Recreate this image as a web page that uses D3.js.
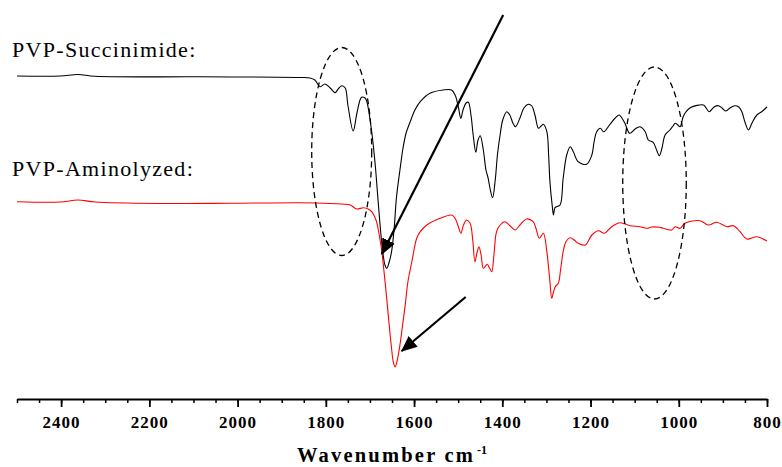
<!DOCTYPE html>
<html>
<head>
<meta charset="utf-8">
<script src="https://cdn.jsdelivr.net/npm/d3@7"></script>
</head>
<body style="margin:0">
<script>
// wavenumber (cm-1) vs transmittance (arbitrary units, offset per trace)
const succinimide = [
  [2500, 324], [2402, 324], [2362, 325.5], [2323, 323.7], [2085, 323.2], [1858, 322.5],
  [1836, 322], [1825, 320], [1813, 313.3], [1802, 316], [1790, 312], [1779, 307.3],
  [1772, 311], [1764, 314.3], [1756, 312], [1750, 295], [1738, 269], [1729, 288],
  [1719, 302.7], [1711, 302], [1707, 298.3], [1696, 268.3], [1688, 235], [1682, 202],
  [1675, 165], [1670, 145], [1666, 135], [1662, 131.7], [1657, 137], [1651, 148.3],
  [1645, 172], [1640, 202], [1632, 230], [1625, 252], [1618, 267], [1609, 278],
  [1598, 290], [1586, 298.3], [1564, 306.7], [1534, 310], [1515, 310], [1507, 305],
  [1500, 294], [1494, 281.7], [1489, 290], [1482, 297], [1477, 297.7], [1471, 285],
  [1466, 265], [1460, 247.7], [1455, 260], [1450, 264.3], [1443, 250], [1437, 230],
  [1432, 221.7], [1428, 212], [1422, 202.3], [1416, 220], [1411, 245], [1405, 265],
  [1399, 280], [1390, 288.3], [1383, 285], [1376, 277], [1370, 273.3], [1360, 282],
  [1351, 292], [1341, 295.7], [1333, 294], [1326, 285], [1318, 271.7], [1312, 274],
  [1307, 275.7], [1299, 268.3], [1295, 245], [1292, 218.3], [1287, 195], [1284, 185],
  [1281, 192], [1277, 193.3], [1269, 195], [1262, 221.7], [1254, 245], [1246, 253.3],
  [1239, 248.3], [1228, 238.3], [1209, 235.7], [1197, 245], [1192, 258], [1186, 268.3],
  [1178, 271.7], [1170, 268.3], [1156, 275.7], [1144, 282], [1135, 285], [1129, 282],
  [1122, 276.7], [1111, 266.7], [1099, 271], [1088, 273.3], [1076, 268.3], [1069, 260],
  [1058, 257.7], [1052, 252], [1044, 244.3], [1038, 252], [1031, 265], [1020, 270],
  [1013, 274], [1008, 276.7], [1002, 275], [997, 273.3], [990, 283.3], [984, 288],
  [974, 292.3], [944, 295], [938, 292], [931, 288.3], [920, 293], [910, 294.3],
  [902, 292], [893, 289], [884, 292], [873, 294.3], [864, 293], [857, 288.3],
  [850, 278], [842, 270], [834, 277], [823, 285], [812, 288.3], [800, 293]
];

const aminolyzed = [
  [2500, 198.3], [2402, 198], [2362, 200], [2323, 198], [2176, 196.5], [2017, 196.7],
  [1858, 197.3], [1790, 196.5], [1745, 195], [1730, 191], [1715, 192.3], [1704, 191],
  [1696, 188.3], [1685, 178.3], [1679, 165], [1673, 148.3], [1668, 128], [1662, 101.7],
  [1657, 78], [1651, 51.7], [1647, 38], [1643, 33], [1639, 38], [1632, 55],
  [1626, 75], [1620, 95], [1614, 118], [1605, 138.3], [1594, 161.7], [1586, 168.3],
  [1571, 175], [1541, 181.7], [1515, 185], [1507, 181.7], [1500, 174], [1494, 166.7],
  [1488, 175], [1481, 180], [1473, 176.7], [1467, 160], [1462, 138.3], [1457, 148],
  [1453, 153.3], [1448, 145], [1443, 131.7], [1438, 134], [1434, 135.7], [1429, 132],
  [1424, 128.3], [1419, 145], [1413, 168.3], [1405, 175], [1394, 178.3], [1382, 174],
  [1371, 170], [1360, 175], [1345, 181], [1330, 178.3], [1324, 172], [1316, 161.7],
  [1307, 166.7], [1299, 148.3], [1295, 132], [1292, 118.3], [1288, 101.7], [1284, 108],
  [1280, 113.3], [1273, 116.7], [1268, 130], [1262, 148.3], [1256, 158], [1246, 162.3],
  [1237, 160], [1228, 156.7], [1212, 155], [1197, 165], [1182, 169.3], [1169, 166.7],
  [1152, 173.3], [1133, 177.3], [1110, 174.3], [1088, 173.3], [1073, 171.7], [1061, 173],
  [1044, 172.7], [1035, 171.7], [1016, 170], [1008, 173.3], [997, 171.7], [986, 176.7],
  [952, 179.3], [933, 175], [914, 177.7], [891, 173.3], [876, 174.3], [861, 168.3],
  [846, 161], [823, 163.3], [800, 159]
];

const majorTicks = [2400, 2200, 2000, 1800, 1600, 1400, 1200, 1000, 800];
const minorTicks = d3.range(2500, 799, -50);

const seriesLabels = ["PVP-Succinimide:", "PVP-Aminolyzed:"];
const seriesColors = ["#000000", "#ff0000"];

// annotation marks: [wavenumber, value]
const ellipses = [
  { c: [1764, 248.5], rx: 68, ry: 104 },
  { c: [1055, 217], rx: 72, ry: 116 }
];
const arrows = [
  { from: [1398, 385], to: [1673, 146] },
  { from: [1483, 103], to: [1628, 49] }
];

const FONT = '"Liberation Serif"';
const width = 782, height = 467;

const svg = d3.select("body").append("svg")
  .attr("width", width)
  .attr("height", height);

const x = d3.scaleLinear().domain([2500, 800]).range([17, 767]);
const y = d3.scaleLinear().domain([0, 400]).range([400, 0]);

const line = d3.line()
  .x(d => x(d[0]))
  .y(d => y(d[1]))
  .curve(d3.curveCatmullRom.alpha(0.5));

// series labels
svg.selectAll("text.series-label")
  .data(seriesLabels)
  .enter().append("text")
  .attr("class", "series-label")
  .attr("x", 12)
  .attr("y", (d, i) => i === 0 ? 57 : 176)
  .attr("font-family", "Liberation Serif")
  .style("font-family", FONT, "important")
  .attr("font-size", 22)
  .style("letter-spacing", "1.3px")
  .text(d => d);

// spectra
svg.append("g")
  .selectAll("path")
  .data([succinimide, aminolyzed])
  .enter().append("path")
  .attr("d", line)
  .attr("fill", "none")
  .attr("stroke", (d, i) => seriesColors[i])
  .attr("stroke-width", 1.1);

// dashed ellipses
svg.append("g")
  .selectAll("ellipse")
  .data(ellipses)
  .enter().append("ellipse")
  .attr("cx", d => x(d.c[0]))
  .attr("cy", d => y(d.c[1]))
  .attr("rx", d => Math.abs(x(d.c[0] + d.rx) - x(d.c[0])))
  .attr("ry", d => Math.abs(y(d.c[1] + d.ry) - y(d.c[1])))
  .attr("fill", "none")
  .attr("stroke", "#000")
  .attr("stroke-width", 1.3)
  .attr("stroke-dasharray", "6,4");

// arrows
svg.append("defs").append("marker")
  .attr("id", "head")
  .attr("markerUnits", "userSpaceOnUse")
  .attr("viewBox", "0 0 16 14")
  .attr("refX", 15)
  .attr("refY", 7)
  .attr("markerWidth", 16)
  .attr("markerHeight", 14)
  .attr("orient", "auto")
  .append("path")
  .attr("d", "M0,0 L16,7 L0,14 Z")
  .attr("fill", "#000");

svg.append("g")
  .selectAll("line")
  .data(arrows)
  .enter().append("line")
  .attr("x1", d => x(d.from[0]))
  .attr("y1", d => y(d.from[1]))
  .attr("x2", d => x(d.to[0]))
  .attr("y2", d => y(d.to[1]))
  .attr("stroke", "#000")
  .attr("stroke-width", 2.2)
  .attr("marker-end", "url(#head)");

// x axis
const axisY = 399;
const minorAxis = svg.append("g")
  .attr("transform", `translate(0,${axisY})`)
  .call(d3.axisBottom(x).tickValues(minorTicks).tickSize(4).tickSizeOuter(0).tickFormat(""));
minorAxis.select(".domain").remove();
minorAxis.selectAll(".tick line").attr("stroke-width", 1.5);

const majorAxis = svg.append("g")
  .attr("transform", `translate(0,${axisY})`)
  .call(d3.axisBottom(x).tickValues(majorTicks).tickSize(8).tickSizeOuter(0)
    .tickFormat(d3.format("d")));
majorAxis.attr("font-family", "Liberation Serif").attr("font-size", null);
majorAxis.select(".domain").attr("stroke-width", 2);
majorAxis.selectAll(".tick line").attr("stroke-width", 1.8);
majorAxis.selectAll(".tick text")
  .attr("y", 29)
  .attr("dy", 0)
  .attr("font-family", "Liberation Serif")
  .style("font-family", FONT, "important")
  .attr("font-weight", "bold")
  .attr("font-size", 17)
  .style("letter-spacing", "1px")
  .attr("fill", "#000");

// axis title
svg.append("text")
  .attr("x", 297)
  .attr("y", 462)
  .attr("font-family", "Liberation Serif")
  .style("font-family", FONT, "important")
  .attr("font-weight", "bold")
  .attr("font-size", 20.5)
  .style("letter-spacing", "2.2px")
  .text("Wavenumber cm");

svg.append("text")
  .attr("x", 477)
  .attr("y", 454)
  .attr("font-family", "Liberation Serif")
  .style("font-family", FONT, "important")
  .attr("font-weight", "bold")
  .attr("font-size", 12)
  .text("-1");
</script>
</body>
</html>
